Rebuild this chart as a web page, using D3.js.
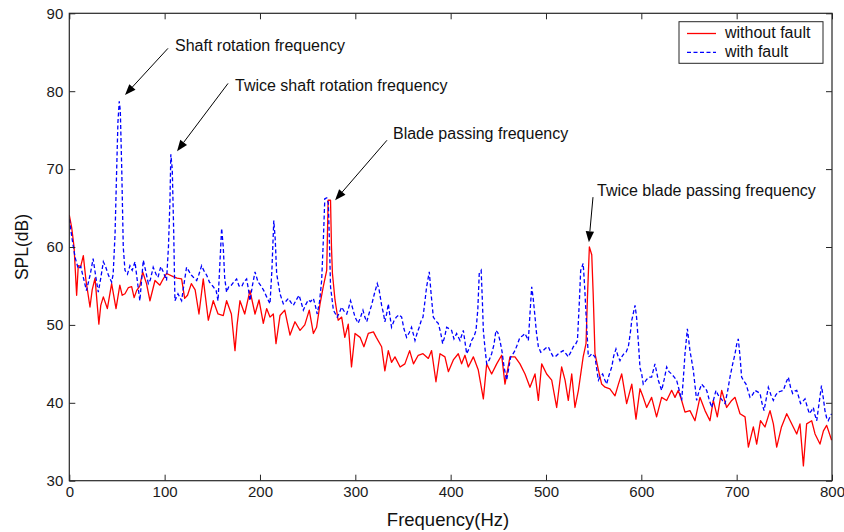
<!DOCTYPE html>
<html>
<head>
<meta charset="utf-8">
<script src="https://cdn.jsdelivr.net/npm/d3@7"></script>
<style>
html,body{margin:0;padding:0;background:#fff;}
svg text{font-family:"Liberation Sans",Arial,sans-serif;}
</style>
</head>
<body>
<svg id="chart" width="844" height="532"></svg>
<script>
// ---------- DATA ----------
const xTicks = [0,100,200,300,400,500,600,700,800];
const yTicks = [30,40,50,60,70,80,90];
const seriesNames = ["without fault","with fault"];

const redFreq = [0,2.5,5,7.7,9.4,12,14.7,17.5,21.7,24,27,31,33,35.7,39.9,44.4,49,53,55.5,58.4,62,65.4,68,70.6,74,77,81,84.6,89.9,95,98,102,109,113,117.8,121,124,128,132,136,140.5,145.8,151,156,161.5,165,170,173.8,176,179,184,189.5,194.8,199,203.5,207,210.5,214,216.8,221,226,231.5,236.7,242,247,251.7,256,259.4,263,266.4,270,271.5,274,275,276,278.7,282,285.7,289,292.6,296,299.7,305,309,313.6,319,322,327.6,331,334.6,338,341.6,347,352,357,361,366,371,376.6,380,384.6,388.8,394,397.6,402.8,408,411.5,415,418.5,423.8,429,434.3,437.8,443,448.3,453.5,457,462.2,467.5,472.7,478,483.2,488.5,492,495.5,500.7,506,511.2,516.4,520,523.4,527,530.4,534,539,542,543.5,545.5,548,549.5,551.4,555,558.4,562,567,572.4,576,579.4,584.6,590,594.4,598.6,602,605.6,610.8,616,621.3,626.6,631.8,635.3,638.8,642.3,645.8,651,656.3,661.5,666.8,672,675.5,679.7,684.3,689.5,694.8,698.3,703.5,708.8,712.3,717.5,721,725,729.7,735,738.5,742,747,752.5,757.7,763,766.4,770,773.4,778.7,782.2,787.4,791,794.4,799.6];
const redSPL = [64.1,62.5,60,53.8,57.6,57.5,58.9,55.7,52.3,54.5,56,50.1,52.5,53.6,52.1,55.3,52.1,55.1,53.8,54,54.8,54.9,53.5,54.4,55,56.8,55.3,53.1,55.7,55.1,55.8,56.6,56.2,56,55.9,53.4,53.8,55.3,54.5,51.4,55.9,50.6,53.1,51.4,51.2,53.1,51.4,46.7,50,53.1,51.4,54.4,51.4,53.2,50.2,52.1,51,51.4,47.6,51.2,51.9,48.7,50.4,49.3,50,51.9,48.9,49.7,52.7,54.9,57,66,66,60,56.6,53.2,50.6,51,48.4,50.1,44.6,48.9,48.4,47.2,48.9,49.1,48.4,47.2,44.1,46.7,45.2,45.9,44.6,45,46.7,45,46.1,46.3,45.7,46.7,42.7,46.3,45.9,44,45.5,46.3,45,46.1,44.6,45.9,44.2,40.5,45,43.7,45,46.1,42.4,45.9,45.9,45,43.7,42,43.7,40.3,45,43.7,42.9,39.4,44.6,42.9,40.3,43.7,39.4,41.6,45.9,47.6,53.6,60,59,54,46.3,44.2,42.4,42,41.8,40.9,42.4,43.7,39.9,42.4,37.9,41.8,40.7,39.4,40.7,38.2,40.7,40.3,41.6,40.7,41.6,40.3,38.8,39,37.7,40.7,39,37.7,40.3,38.2,41.6,39.4,40.3,40.7,38.6,38.2,34.3,36.9,34.7,37.7,36.9,39,37.3,34.3,36.9,38.6,37.3,36,37.3,31.9,37.3,37.7,36,34.7,36.4,37.1,35.2];

const blueFreq = [0,3,6,9.4,12,14.7,18,22,25,28,30.4,33,35.7,38,41,44.4,46,48,49.7,51,52.4,53.5,55,56.6,58.4,61,63.6,66,68.9,71,74,77.6,80,82.9,85,88,91,93,96,98.6,102,104,105.6,106.5,108,109.5,110.8,114,117.8,120,123,125,128,131,133.6,136,138.8,141,144,147,151,154,156,158,159.8,161.5,163,165,167.5,170,172.5,175.5,178,180.8,183,186,188,189.5,192,194.8,198,201.7,204,207,210.5,212.5,214.5,216,217.5,221,224.5,227,229.7,233,235,238,241,243,245.5,248,250.7,253,256,258,260,262.5,264.7,266.5,268,270,271.7,273,274,277,281,283,285.7,288,291,293,295,297.5,299.7,303,305.5,308,310,312,314.5,317,320,323,325,327.6,329.5,331,333,334.6,336.5,338,340.5,343,346,348.6,351,353.8,356.5,359,362.6,365,367,369,371,373,374.8,377.6,379.5,381.8,384.5,387,389.5,391.6,393.8,395.8,398.5,401,403.5,406.3,409.8,413.3,416.8,419.5,422,424.5,426.6,428.5,430,432,433.3,434.3,436,437.8,440.5,443,445.5,447.5,449.5,451.7,454,456,458.7,461,463,465,467.5,470,472.7,475.5,478,481.5,483.5,485,486.5,488.5,490,492,494.5,497,499.5,502.4,505,507.7,510.5,513,515.5,518,521,523.4,526,528.7,531,533,535,536.4,539,540.5,542,543.5,544.4,546,548,551.4,553,555,557,559.4,561.5,563.6,566,569,571,573.4,575.5,577.6,580,581.8,584,586.4,588.5,590,593.4,595,597,598.6,600.4,602,605.6,608,610.8,614.3,617.8,621.3,624,626.6,629,631.8,634.5,637,640,642.3,644,645.8,648.3,651,654.5,656.5,658,660.5,663.3,666,668.5,671,673.8,676,678.3,680.5,682.5,685,687.8,690.5,693,695.5,698.3,700,701.7,703.5,705.2,707.5,709.8,712,714,716.5,719.2,722,724.5,726.5,728.7,731,733.2,736,738.5,741,743.7,746.5,749,751.5,754.2,756.5,758.7,761,763,765,767,769.5,771.7,774,776.2,778.5,780.4,782,784,786.5,789,791,792.6,794.5,796,798,799.6];
const blueSPL = [63.6,61,58.7,57.2,57.5,56.1,54.4,56.5,58.5,56,54.2,56,58.1,57.5,56.4,55.5,56.5,61.7,70,76,78.7,77.5,70,60,57,56.5,57.6,57,58.1,56,53.1,58.3,57,55.3,55.8,57.4,56.5,56.1,57.5,56.8,55.7,60,66,71.9,70,62,53.1,54,53.1,55,57.4,57,56.4,56,55.7,56.5,57.6,57,56.4,55.5,54.9,54.4,53.1,58,62.4,60,56,54.2,55,55.1,55.5,55.9,55,54.9,55.5,55.9,54.5,53.1,55,56.8,55.5,54.9,54.4,53.6,52.7,57,63.4,61,56.6,54,52.7,53,53.4,52.8,52.5,53.2,53.8,53,51.9,52.6,53.2,53,53.4,52.5,51.4,53,55.7,61,66.2,66.3,65.6,60,54.9,51.9,51,51.5,52.3,51.8,51.4,52.2,53.1,52,51,50.2,51,51.9,51,50.4,51.5,52.5,54,55.3,54.5,52.5,51.5,50.4,51.5,52.7,51,49.7,50.5,51,51.3,51,49.5,48.4,49,49.7,48,49,49.7,50.5,51,53,54.9,56.8,54,51,50.5,50.2,49,47.6,48.5,49.7,49.5,49.3,48.2,48.9,48,49.3,46.3,47,48,48.5,49.3,52,56.6,57,53,49.3,47,45,45.5,46.3,47.5,49.3,49,48,46.5,44.6,42.9,44.5,45.9,46.2,46.7,47.5,48.4,48.6,48.9,48,52,54.9,53.5,51,49,47.2,46.5,46.7,47,47.2,46.5,45.9,46,46.3,46.5,46.7,46.3,45.9,46.5,47.2,47.5,48,53,57,57.9,55,51.4,48,45.9,46,46.3,45.9,44.5,42.9,43.4,43.7,43,42.4,43.5,44.6,46,46.9,46,45.4,46,46.3,46.5,47.2,49,50.6,52.5,51,47.6,44.5,43.7,42.4,43,43.3,43.3,45,42.9,41.6,43,44.6,44,43.7,43.3,42.9,41.5,40.3,43,46.3,49.5,46.7,44.2,42,40.3,41.5,42.4,42,41.6,40.5,39.4,40.5,41.6,41,40.7,40.3,39.9,41.5,43.3,44.8,46.3,47.5,48.2,46,43.3,42.8,42.4,41.5,40.7,41,41.6,41.4,41.2,40,39,40.5,42,41,40.3,41,41.4,41.5,41.6,42.5,43.3,42,41.2,41.5,41.6,40.8,39.9,40.2,40.5,39.5,38.6,39,39.4,38.5,37.7,40,42.2,40.5,39,38,37.7,38.2,38.6];

// annotations: tip = point arrow reaches, tail = arrow start, text anchor (all in data units)
const annText    = ["Shaft rotation frequency","Twice shaft rotation frequency","Blade passing frequency","Twice blade passing frequency"];
const annTipF    = [58.4,113,278.8,545];
const annTipS    = [79.5,72.3,66,60.6];
const annTailF   = [103.5,166.5,333.2,549.3];
const annTailS   = [85.5,81,73.7,66.4];
const annTextF   = [110.9,173.8,339.5,553.5];
const annTextS   = [85.15,80,73.8,66.6];

// ---------- LAYOUT ----------
const W = 844, H = 532;
const m = {left:69.3, right:12, top:13.3, bottom:51.3};
const svg = d3.select("#chart");
const x = d3.scaleLinear().domain([0,800]).range([m.left, W-m.right]);
const y = d3.scaleLinear().domain([30,90]).range([H-m.bottom, m.top]);
const axisColor = "#262626";

svg.append("clipPath").attr("id","clip").append("rect")
  .attr("x",x(0)).attr("y",y(90)).attr("width",x(800)-x(0)).attr("height",y(30)-y(90));

const line = d3.line().x(d=>x(d[0])).y(d=>y(d[1]));
const red = redFreq.map((f,i)=>[f,redSPL[i]]);
const blue = blueFreq.map((f,i)=>[f,blueSPL[i]]);

const g = svg.append("g").attr("clip-path","url(#clip)");
g.append("path").datum(red).attr("d",line)
  .attr("fill","none").attr("stroke","#ff0000").attr("stroke-width",1.3).attr("stroke-linejoin","round");
g.append("path").datum(blue).attr("d",line)
  .attr("fill","none").attr("stroke","#0000ff").attr("stroke-width",1.3)
  .attr("stroke-dasharray","4,2.5");

function styleAxis(sel){
  sel.select(".domain").remove();
  sel.selectAll("line").attr("stroke",axisColor).attr("stroke-width",1);
  sel.selectAll("text").attr("fill","#1a1a1a").style("font-size","15px");
}
svg.append("g").attr("transform",`translate(0,${y(30)})`)
  .call(d3.axisBottom(x).tickValues(xTicks).tickSize(-6).tickPadding(6).tickFormat(d3.format("d")))
  .call(styleAxis);
svg.append("g").attr("transform",`translate(0,${y(90)})`)
  .call(d3.axisTop(x).tickValues(xTicks).tickSize(-6).tickFormat(""))
  .call(styleAxis);
svg.append("g").attr("transform",`translate(${x(0)},0)`)
  .call(d3.axisLeft(y).tickValues(yTicks).tickSize(-6).tickPadding(6).tickFormat(d3.format("d")))
  .call(styleAxis);
svg.append("g").attr("transform",`translate(${x(800)},0)`)
  .call(d3.axisRight(y).tickValues(yTicks).tickSize(-6).tickFormat(""))
  .call(styleAxis);
svg.append("rect").attr("x",x(0)).attr("y",y(90))
  .attr("width",x(800)-x(0)).attr("height",y(30)-y(90))
  .attr("fill","none").attr("stroke",axisColor).attr("stroke-width",1.2);

// axis titles
svg.append("text").attr("x",448).attr("y",H-6)
  .attr("text-anchor","middle").style("font-size","18.5px").attr("fill","#111")
  .text("Frequency(Hz)");
svg.append("text").attr("transform",`translate(28,${(y(30)+y(90))/2})rotate(-90)`)
  .attr("text-anchor","middle").style("font-size","17.5px").attr("fill","#111")
  .text("SPL(dB)");

// annotations
annText.forEach((t,i)=>{
  const x1 = x(annTailF[i]), y1 = y(annTailS[i]);
  const x2 = x(annTipF[i]), y2 = y(annTipS[i]);
  const ang = Math.atan2(y2-y1, x2-x1);
  const L = 11, hw = 4.2;
  const bx = x2 - L*Math.cos(ang), by = y2 - L*Math.sin(ang);
  svg.append("line").attr("x1",x1).attr("y1",y1).attr("x2",bx).attr("y2",by)
    .attr("stroke","#000").attr("stroke-width",1);
  const p = [[x2,y2],
    [bx + hw*Math.sin(ang), by - hw*Math.cos(ang)],
    [bx - hw*Math.sin(ang), by + hw*Math.cos(ang)]];
  svg.append("polygon").attr("points",p.map(d=>d.join(",")).join(" ")).attr("fill","#000");
  svg.append("text").attr("x",x(annTextF[i])).attr("y",y(annTextS[i]))
    .style("font-size","16px").attr("fill","#111").text(t);
});

// legend
const lg = svg.append("g").attr("transform",`translate(${x(800)-153},${y(90)+8.4})`);
lg.append("rect").attr("width",144).attr("height",41.6)
  .attr("fill","#fff").attr("stroke",axisColor).attr("stroke-width",1);
const lcol = ["#ff0000","#0000ff"];
const ldash = [null,"4,2.5"];
seriesNames.forEach((n,i)=>{
  const yy = 11.8 + i*18.8;
  const l = lg.append("line").attr("x1",8).attr("x2",37).attr("y1",yy).attr("y2",yy)
    .attr("stroke",lcol[i]).attr("stroke-width",1.3);
  if(ldash[i]) l.attr("stroke-dasharray",ldash[i]);
  lg.append("text").attr("x",46).attr("y",yy+5).style("font-size","16px").attr("fill","#111").text(n);
});
</script>
</body>
</html>
